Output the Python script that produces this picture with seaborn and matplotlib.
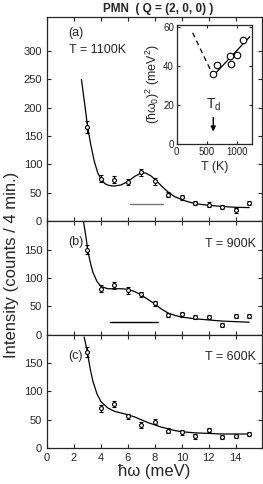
import numpy as np
import matplotlib
matplotlib.use("Agg")
import matplotlib.pyplot as plt
import seaborn as sns

sns.set_style("ticks")
plt.rcParams['font.family'] = ['Liberation Sans', 'DejaVu Sans']
plt.rcParams['mathtext.fontset'] = 'custom'
plt.rcParams['mathtext.rm'] = 'Liberation Sans'
plt.rcParams['mathtext.it'] = 'Liberation Sans:italic'
plt.rcParams['xtick.direction'] = 'in'
plt.rcParams['ytick.direction'] = 'in'

# ---- data ----
energy = [3, 4, 5, 6, 7, 8, 9, 10, 11, 12, 13, 14, 15]

int_1100 = [166, 75, 73, 69, 86, 70, 47, 42, 32, 29, 25, 19, 32]
err_1100 = [10, 6, 6, 6, 6, 6, 5, 5, 4, 4, 4, 4, 4]
int_900 = [150, 81, 87, 78, 71, 55, 35, 36, 31, 31, 17, 33, 33]
err_900 = [8, 6, 6, 6, 5, 5, 4, 4, 4, 4, 4, 4, 4]
int_600 = [170, 70, 78, 56, 41, 47, 31, 28, 21, 32, 20, 21, 25]
err_600 = [9, 6, 6, 5, 5, 5, 4, 4, 4, 4, 3, 3, 3]

# fitted curves
fit_e_1100 = [2.55, 2.8, 3.0, 3.25, 3.5, 3.75, 4.0, 4.3, 4.6, 5.0, 5.5, 6.0, 6.5,
              7.0, 7.3, 7.7, 8.0, 8.5, 9.0, 9.5, 10.0, 10.5, 11.0, 12.0, 13.0, 14.0, 15.0]
fit_i_1100 = [250, 205, 168, 134, 106, 86, 74, 66, 63, 62, 64, 70, 79,
              85, 85, 80, 74, 62, 51, 43, 38, 34, 31, 28, 26, 24.5, 24]
fit_e_900 = [2.7, 2.9, 3.0, 3.2, 3.4, 3.7, 4.0, 4.5, 5.0, 5.5, 6.0, 6.5, 7.0,
             7.5, 8.0, 8.5, 9.0, 9.5, 10.0, 11.0, 12.0, 13.0, 14.0, 15.0]
fit_i_900 = [200, 170, 152, 128, 110, 94, 85, 81, 81, 81, 80, 76, 70,
             62, 54, 45, 38, 34, 31, 28, 26, 24, 23, 22]
fit_e_600 = [2.75, 2.9, 3.0, 3.2, 3.4, 3.7, 4.0, 4.5, 5.0, 5.5, 6.0, 6.5, 7.0,
             7.5, 8.0, 8.5, 9.0, 9.5, 10.0, 11.0, 12.0, 13.0, 14.0, 15.0]
fit_i_600 = [196, 180, 168, 140, 118, 96, 82, 71, 65, 62, 59, 55, 50,
             45, 41, 37, 34, 31, 29, 27, 26, 25, 25, 25]

# resolution bars (start, end, level)
res_a = [6.15, 8.6, 31]
res_b = [4.65, 8.25, 23]

# inset: squared soft-mode energy vs temperature
inset_T = [606, 671, 876, 904, 997, 1106]
inset_w2 = [36, 40.3, 45, 41, 45.5, 53.4]
solid_T = [606, 1213]
solid_w2 = [35, 55]
dash_T = [264, 606]
dash_w2 = [57, 35]
T_d = 606

temps = ["T = 1100K", "T = 900K", "T = 600K"]
panel_tags = ["(a)", "(b)", "(c)"]

# ---- figure ----
fig = plt.figure(figsize=(2.63, 4.84), dpi=100)
gs = fig.add_gridspec(3, 1, height_ratios=[360, 200, 200], hspace=0,
                      left=0.179, right=0.996, top=0.965, bottom=0.074)
axes = [fig.add_subplot(gs[i]) for i in range(3)]

sets = [(int_1100, err_1100, fit_e_1100, fit_i_1100),
        (int_900, err_900, fit_e_900, fit_i_900),
        (int_600, err_600, fit_e_600, fit_i_600)]
ytops = [360, 200, 200]
yticks = [[0, 50, 100, 150, 200, 250, 300], [0, 50, 100, 150], [0, 50, 100, 150]]

for i, ax in enumerate(axes):
    vals, errs, fe, fi = sets[i]
    sns.lineplot(x=fe, y=fi, ax=ax, color='black', lw=0.9, sort=False)
    ax.errorbar(energy, vals, yerr=errs, fmt='o', ms=2.8, mfc='white', mec='black',
                mew=0.8, ecolor='black', elinewidth=0.8, capsize=1.5, capthick=0.8)
    ax.set_xlim(0, 15.95)
    ax.set_ylim(0, ytops[i])
    ax.set_xticks(range(0, 16, 2))
    ax.set_yticks(yticks[i])
    ax.tick_params(top=True, right=True, labelsize=8, length=3, width=0.8)
    for sp in ax.spines.values():
        sp.set_linewidth(0.9)
    ax.text(0.1, 0.92 if i == 0 else 0.815, panel_tags[i], transform=ax.transAxes,
            fontsize=9, ha='left', va='center')
    if i == 0:
        ax.text(0.1, 0.84, temps[i], transform=ax.transAxes, fontsize=9,
                ha='left', va='center')
    else:
        ax.text(0.97, 0.8, temps[i], transform=ax.transAxes, fontsize=9,
                ha='right', va='center')
    if i < 2:
        ax.tick_params(labelbottom=False)

axes[0].plot(res_a[:2], [res_a[2]] * 2, color='0.45', lw=1.0)
axes[1].plot(res_b[:2], [res_b[2]] * 2, color='black', lw=1.0)

axes[2].set_xlabel("ħω (meV)", fontsize=12, labelpad=1)
fig.text(0.045, 0.452, "Intensity (counts / 4 min.)", rotation=90,
         fontsize=12, ha='center', va='center')
fig.text(0.6, 0.982, "PMN  ( Q = (2, 0, 0) )", fontsize=8.5, fontweight='bold',
         ha='center', va='center')

# inset
ins = fig.add_axes([0.672, 0.7025, 0.2863, 0.2459])
ins.plot(solid_T, solid_w2, color='black', lw=0.9)
ins.plot(dash_T, dash_w2, color='black', lw=0.9, ls=(0, (4, 3)))
sns.scatterplot(x=inset_T, y=inset_w2, ax=ins, marker='o', s=22,
                facecolor='white', edgecolor='black', linewidth=0.8, zorder=3)
ins.set_xlim(0, 1250)
ins.set_ylim(0, 61)
ins.set_xticks([0, 500, 1000])
ins.set_yticks([0, 20, 40, 60])
ins.tick_params(top=True, right=True, labelsize=7, length=2.5, width=0.8, pad=2)
for sp in ins.spines.values():
    sp.set_linewidth(0.9)
ins.set_xlabel("T (K)", fontsize=9, labelpad=3)
ins.set_ylabel("(ħω$_\\mathrm{0}$)$^\\mathrm{2}$ (meV$^\\mathrm{2}$)", fontsize=9, labelpad=1)
ins.text(T_d, 20, "T$_\\mathrm{d}$", fontsize=10, ha='center', va='center')
ins.annotate("", xy=(T_d, 5), xytext=(T_d, 15),
             arrowprops=dict(arrowstyle='-|>', color='black', lw=1.0,
                             mutation_scale=7))

fig.savefig("out.png", dpi=100)
